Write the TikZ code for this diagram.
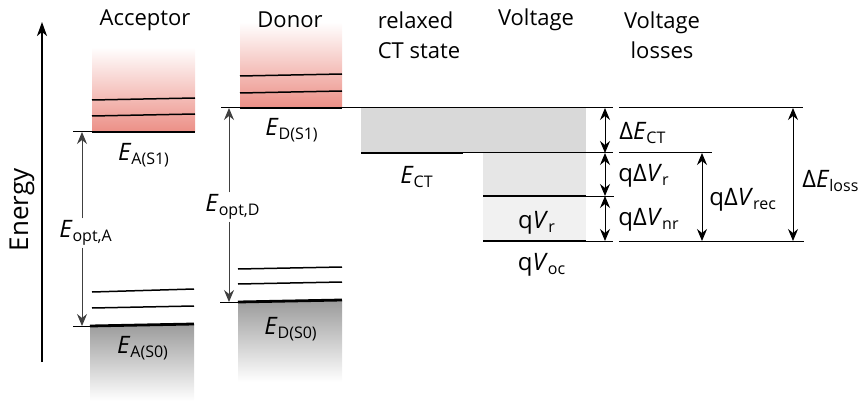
\documentclass[tikz,border=0pt]{standalone}
\usepackage{amsmath}
\usepackage{fontspec}
\setmainfont{Open Sans}
\usepackage{tikz}
\usetikzlibrary{arrows.meta}
\definecolor{levelred}{HTML}{EC8F86}
\definecolor{levelgray}{HTML}{9C9C9C}
\definecolor{ctgray}{HTML}{D9D9D9}
\definecolor{vrgray}{HTML}{E6E6E6}
\definecolor{vnrgray}{HTML}{F1F1F1}
\newcommand{\lvl}[2]{\textit{#1}$_{\text{#2}}$}

\begin{document}
\begin{tikzpicture}[x=0.5pt,y=-0.5pt,
  ttl/.style={font=\fontsize{11}{15}\selectfont,inner sep=1pt},
  lbl/.style={font=\fontsize{12}{14}\selectfont,inner sep=1pt},
  thinline/.style={line width=0.5pt},
  vib/.style={line width=0.75pt},
  lvlthick/.style={line width=1.4pt},
  redfade/.style={top color=white,middle color=levelred!40,bottom color=levelred},
  grayfade/.style={top color=levelgray,middle color=black!12,bottom color=white},
  arr/.style={<->,line width=0.5pt,>={Stealth[length=6pt,width=5pt,inset=2pt]}},
  optarr/.style={->,line width=0.5pt,draw=black!75,>={Stealth[length=6pt,width=5pt,inset=2pt]}}]

  \useasboundingbox (0,0) rectangle (862,401);

  % acceptor
  \shade[redfade] (92,47) rectangle (195,132);
  \shade[grayfade] (90,325) rectangle (194,401);
  \draw[vib] (92,100) -- (195,98);
  \draw[vib] (92,116) -- (195,114);
  \draw[thinline] (73,132) -- (92,132);
  \draw[lvlthick] (92,132) -- (195,132);
  \draw[vib] (92,292) -- (194,289);
  \draw[vib] (92,308) -- (194,306);
  \draw[thinline] (73,326) -- (90,326);
  \draw[lvlthick] (90,326) -- (194,324);

  % donor
  \shade[redfade] (240,22) rectangle (342,108);
  \shade[grayfade] (238,301) rectangle (342,382);
  \draw[vib] (240,76) -- (342,74);
  \draw[vib] (240,93) -- (342,91);
  \draw[thinline] (221,108) -- (240,108);
  \draw[lvlthick] (240,108) -- (342,108);
  \draw[vib] (238,269) -- (342,267);
  \draw[vib] (238,284) -- (342,282);
  \draw[thinline] (220,302) -- (238,302);
  \draw[lvlthick] (238,302) -- (342,300);

  % energy axis
  \coordinate (axbot) at (42,362);
  \coordinate (axtop) at (42,22);
  \draw[line width=0.9pt,-{Stealth[length=7pt,width=5pt,inset=2pt]}] (axbot) -- (axtop);
  \node[ttl,font=\fontsize{13}{15}\selectfont,rotate=90] (energy) at (22,210) {Energy};

  % titles
  \node[ttl] (tacc) at (145,20) {Acceptor};
  \node[ttl] (tdon) at (290,20) {Donor};
  \node[ttl,align=left] (tct) at (419,35) {relaxed\\CT state};
  \node[ttl] (tvolt) at (536,20) {Voltage};
  \node[ttl,align=center] (tloss) at (662,35) {Voltage\\losses};

  % relaxed CT state and voltage
  \fill[ctgray] (361,108) rectangle (586,153);
  \fill[vrgray] (483,153) rectangle (586,196);
  \fill[vnrgray] (483,196) rectangle (586,241);
  \draw[thinline] (342,108) -- (613,108);
  \draw[thinline] (619,108) -- (803,108);
  \draw[lvlthick] (361,153) -- (463,153);
  \draw[thinline] (463,153) -- (613,153);
  \draw[thinline] (619,153) -- (712,153);
  \draw[lvlthick] (483,196) -- (586,196);
  \draw[thinline] (586,196) -- (614,196);
  \draw[lvlthick] (483,241) -- (586,241);
  \draw[thinline] (586,241) -- (613,241);
  \draw[thinline] (619,241) -- (804,241);

  % level labels
  \node[lbl] (eas1) at (144,155) {\lvl{E}{A(S1)}};
  \node[lbl] (eds1) at (292,130) {\lvl{E}{D(S1)}};
  \node[lbl] (eas0) at (143,348) {\lvl{E}{A(S0)}};
  \node[lbl] (eds0) at (291,329) {\lvl{E}{D(S0)}};
  \node[lbl] (ect) at (417,177) {\lvl{E}{CT}};
  \node[lbl] (qvr) at (537,223) {q\lvl{V}{r}};
  \node[lbl] (qvoc) at (542,265) {q\lvl{V}{oc}};

  % optical gaps
  \coordinate (optAtop) at (82,132);
  \coordinate (optAbot) at (82,326);
  \coordinate (optDtop) at (229,108);
  \coordinate (optDbot) at (229,302);
  \node[lbl] (eoptA) at (86,233) {\lvl{E}{opt,A}};
  \node[lbl] (eoptD) at (233,207) {\lvl{E}{opt,D}};
  \draw[optarr] (eoptA.north -| optAtop) -- (optAtop);
  \draw[optarr] (eoptA.south -| optAbot) -- (optAbot);
  \draw[optarr] (eoptD.north -| optDtop) -- (optDtop);
  \draw[optarr] (eoptD.south -| optDbot) -- (optDbot);

  % voltage losses
  \coordinate (lctA) at (605,108);
  \coordinate (lctB) at (605,153);
  \coordinate (lrB) at (605,196);
  \coordinate (lnrB) at (605,241);
  \coordinate (recA) at (702,153);
  \coordinate (recB) at (702,241);
  \coordinate (lossA) at (793,108);
  \coordinate (lossB) at (793,241);
  \draw[arr] (lctA) -- (lctB);
  \draw[arr] (lctB) -- (lrB);
  \draw[arr] (lrB) -- (lnrB);
  \draw[arr] (recA) -- (recB);
  \draw[arr] (lossA) -- (lossB);

  \node[lbl,anchor=west] (dect) at (617,133) {Δ\lvl{E}{CT}};
  \node[lbl,anchor=west] (dvr) at (616,176) {qΔ\lvl{V}{r}};
  \node[lbl,anchor=west] (dvnr) at (616,220) {qΔ\lvl{V}{nr}};
  \node[lbl,anchor=west] (dvrec) at (707,200) {qΔ\lvl{V}{rec}};
  \node[lbl,anchor=west] (deloss) at (800,181) {Δ\lvl{E}{loss}};
\end{tikzpicture}
\end{document}
